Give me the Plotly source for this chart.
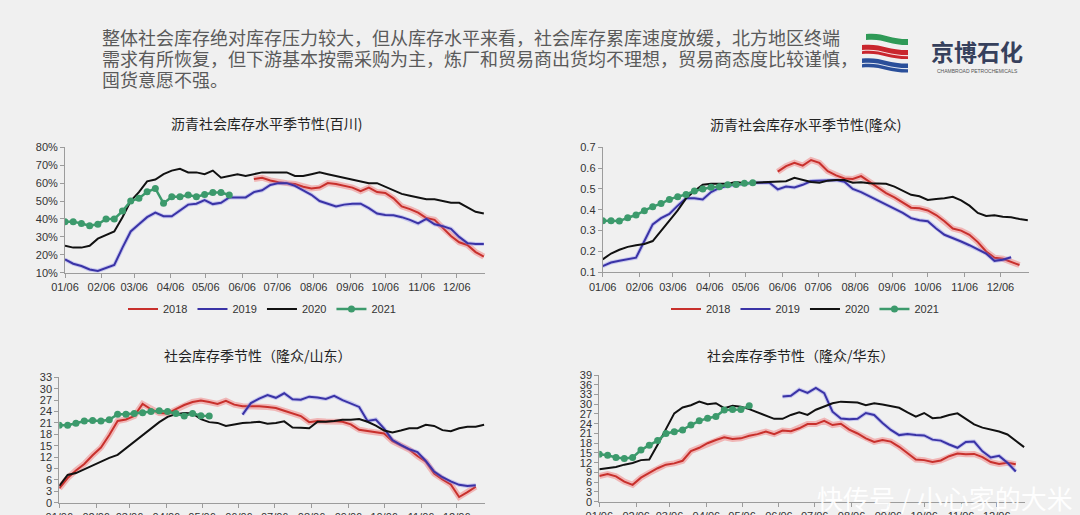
import pandas as pd
import plotly.graph_objects as go

W, H = 1080, 515

# ---------------- text ----------------
header_lines = [
    "整体社会库存绝对库存压力较大，但从库存水平来看，社会库存累库速度放缓，北方地区终端",
    "需求有所恢复，但下游基本按需采购为主，炼厂和贸易商出货均不理想，贸易商态度比较谨慎，",
    "囤货意愿不强。",
]
chart_titles = [
    "沥青社会库存水平季节性(百川)",
    "沥青社会库存水平季节性(隆众)",
    "社会库存季节性（隆众/山东）",
    "社会库存季节性（隆众/华东）",
]
logo_name = "京博石化"
logo_sub = "CHAMBROAD PETROCHEMICALS"
watermark = "快传号 / 小心家的大米"
years = ["2018", "2019", "2020", "2021"]

# ---------------- data (weekly readings, seasonal axis 01/06 .. 12/30) ----------------
# chart 1: 百川 库存水平 (%)
c1_2018_start = "2021-06-16"
c1_2018 = [62.3, 63, 61.5, 60.5, 60, 59.5, 58, 57, 57.5, 60, 59.5, 58.5, 57.5, 55.5, 57.5,
           55, 54.5, 51.5, 47, 45.5, 43.5, 40.5, 39.5, 35, 30.5, 27, 25.5, 21.5, 19]
c1_2019_start = "2021-01-06"
c1_2019 = [17.4, 15, 13.7, 11.8, 11, 12.5, 14.3, 24, 33, 37, 41, 43.5, 41.5, 41.5, 45, 48,
           48.5, 50.5, 48.3, 49, 52, 52, 52, 55, 56, 59, 60, 60, 58.5, 56, 53.5, 50, 48.5,
           47, 48, 48.5, 48.5, 46, 43, 42.2, 42, 41, 39.5, 37.5, 40, 37, 36, 34.5, 30, 26.5, 26, 26]
c1_2020_start = "2021-01-06"
c1_2020 = [25, 24, 24, 25, 29, 31, 33, 41, 50, 55, 61, 62, 65, 67, 68, 66, 66, 65, 67, 63,
           64, 65, 64, 65, 66, 66, 66, 66, 64, 64, 65, 66, 65, 64, 63, 62, 61, 60, 60, 58,
           56, 54, 53, 52, 51, 51, 50, 49, 49, 46.5, 44, 43]
c1_2021_start = "2021-01-06"
c1_2021 = [38.5, 38.5, 37.5, 36.2, 37, 40, 40, 44.4, 50, 51.5, 55.2, 57, 48.7, 52.4, 52.4,
           53.4, 52.4, 53.7, 54.7, 54.7, 53.4]

# chart 2: 隆众 库存水平 (ratio)
c2_2018_start = "2021-06-02"
c2_2018 = [0.583, 0.61, 0.626, 0.612, 0.639, 0.625, 0.585, 0.565, 0.55, 0.548, 0.562, 0.535,
           0.505, 0.48, 0.46, 0.435, 0.41, 0.407, 0.397, 0.375, 0.345, 0.31, 0.3, 0.28, 0.245,
           0.2, 0.17, 0.165, 0.15, 0.135]
c2_2019_start = "2021-01-06"
c2_2019 = [0.13, 0.147, 0.155, 0.162, 0.17, 0.25, 0.33, 0.36, 0.38, 0.42, 0.455, 0.455, 0.45,
           0.485, 0.505, 0.515, 0.52, 0.525, 0.53, 0.53, 0.53, 0.498, 0.512, 0.507, 0.52,
           0.538, 0.54, 0.54, 0.543, 0.535, 0.5, 0.485, 0.465, 0.445, 0.425, 0.408, 0.385,
           0.36, 0.35, 0.345, 0.31, 0.28, 0.265, 0.248, 0.23, 0.21, 0.19, 0.155, 0.16, 0.172]
c2_2020_start = "2021-01-06"
c2_2020 = [0.162, 0.19, 0.208, 0.222, 0.23, 0.236, 0.25, 0.3, 0.345, 0.397, 0.455, 0.49,
           0.52, 0.525, 0.525, 0.525, 0.533, 0.528, 0.53, 0.532, 0.532, 0.534, 0.537, 0.554,
           0.544, 0.533, 0.53, 0.54, 0.543, 0.543, 0.53, 0.532, 0.528, 0.527, 0.525, 0.511,
           0.49, 0.472, 0.465, 0.447, 0.452, 0.455, 0.462, 0.445, 0.42, 0.385, 0.37, 0.374,
           0.367, 0.364, 0.356, 0.35]
c2_2021_start = "2021-01-06"
c2_2021 = [0.348, 0.348, 0.346, 0.362, 0.375, 0.396, 0.415, 0.43, 0.45, 0.463, 0.474, 0.49,
           0.5, 0.508, 0.511, 0.52, 0.522, 0.527, 0.53]

# chart 3: 隆众/山东 社会库存 (万吨)
c3_2018_start = "2021-01-06"
c3_2018 = [3.8, 6.5, 8.5, 10.2, 12.5, 14.5, 17.8, 21.5, 21.9, 22.8, 26, 24.6, 23.6, 23.5,
           24.6, 25.7, 26.5, 26.9, 26.5, 26, 26.8, 25.8, 25.4, 25.4, 25.4, 25.2, 24.9, 24.2,
           23.6, 22.8, 21.2, 21.5, 21.4, 21.5, 21.3, 20.6, 19.2, 18.8, 18.6, 18.2, 16.2, 15.1,
           14, 12.3, 10.8, 7.7, 6.1, 4.8, 1.5, 2.8, 4.2]
c3_2019_start = "2021-06-09"
c3_2019 = [23.2, 26.2, 27.4, 28.3, 27.6, 28.8, 27.2, 27.1, 27.9, 27.7, 27.3, 28.1, 27.0,
           26.2, 25.2, 21.5, 21.9, 19.5, 16.5, 15.2, 14.1, 13.3, 11, 8.2, 6.7, 5.6, 4.7, 4.4, 4.6]
c3_2020_start = "2021-01-06"
c3_2020 = [4.4, 7.3, 7.8, 8.8, 10, 11, 11.8, 12.6, 14.3, 16, 17.6, 19.5, 21.2, 22.6, 23.3,
           23.6, 23.5, 22, 21.2, 21, 20.2, 20.6, 21, 21.1, 21.3, 20.8, 21, 21.4, 19.8, 19.7,
           19.6, 21.3, 21.3, 21.5, 21.8, 21.8, 22, 21.3, 20.3, 19, 18.5, 19, 19.6, 19.6, 20.5,
           20.2, 19.1, 18.8, 19.6, 20, 20, 20.5]
c3_2021_start = "2021-01-06"
c3_2021 = [20.4, 20.4, 20.9, 21.5, 21.6, 21.5, 21.8, 23.3, 23.3, 23.5, 23.7, 24, 24.2, 24,
           23.5, 22.8, 23.5, 22.9, 22.8]

# chart 4: 隆众/华东 社会库存 (万吨)
c4_2018_start = "2021-01-06"
c4_2018 = [7.9, 8.5, 7.8, 6.2, 5.2, 7.4, 8.9, 10.3, 11.4, 11.8, 12.6, 15.6, 16.6, 18, 19,
           19.8, 19.3, 19.5, 20.3, 20.8, 21.6, 20.8, 21.9, 21.7, 22.6, 23.9, 23.9, 24.9, 23.6,
           24.0, 22.2, 21, 19.5, 18.4, 19, 18.5, 16.9, 15, 13, 12.8, 12.2, 12.7, 14, 14.8,
           14.6, 14.7, 13.7, 12.2, 11.6, 12, 11.5]
c4_2019_start = "2021-06-09"
c4_2019 = [32.4, 32.6, 34.5, 33.5, 35, 33.4, 27.7, 25.6, 25.4, 25.5, 27.3, 26.7, 24.2, 22.1,
           20.5, 20.8, 20.5, 20.4, 19.1, 18.8, 17.6, 16.6, 18.4, 18.5, 15.5, 13.6, 14.1, 12, 9.3]
c4_2020_start = "2021-01-06"
c4_2020 = [10, 10.3, 10.7, 11.4, 11.9, 12.8, 13, 17.5, 22.3, 27.2, 29, 29.7, 30.8, 30, 30.3,
           28.8, 29.5, 29.2, 28.5, 27.5, 26.3, 25.5, 25.5, 26.7, 27.5, 26.7, 28.3, 29.4, 30.3,
           30.8, 30.6, 30.5, 29.7, 30.3, 29.9, 29.4, 28.9, 27.5, 26.2, 27.3, 25.7, 25.9, 26.7,
           27.2, 25.6, 23.8, 22.8, 22.3, 21.6, 20.7, 18.8, 16.8]
c4_2021_start = "2021-01-06"
c4_2021 = [14.6, 14.3, 13.6, 13.3, 13.6, 15.9, 17.4, 18.8, 21, 21.5, 22.1, 23.6, 24.9, 25.7,
           26.2, 28.2, 28.4, 28.4, 29.5]

charts = [
    [(c1_2018_start, c1_2018), (c1_2019_start, c1_2019), (c1_2020_start, c1_2020), (c1_2021_start, c1_2021)],
    [(c2_2018_start, c2_2018), (c2_2019_start, c2_2019), (c2_2020_start, c2_2020), (c2_2021_start, c2_2021)],
    [(c3_2018_start, c3_2018), (c3_2019_start, c3_2019), (c3_2020_start, c3_2020), (c3_2021_start, c3_2021)],
    [(c4_2018_start, c4_2018), (c4_2019_start, c4_2019), (c4_2020_start, c4_2020), (c4_2021_start, c4_2021)],
]

# ---------------- style ----------------
CJK = "Noto Sans CJK SC"
LAT = "Liberation Sans, Arial, sans-serif"
RED, BLUE, BLACK, GREEN = "#c8302c", "#3a33a6", "#111111", "#3c9a6c"
AXC = "#9c9c9c"
TXT = "#333333"

# plot rectangles in pixels: (left, right, top, bottom)
boxes = [(65, 485, 147.3, 272.7), (602.7, 1029, 147.3, 272.3),
         (59.3, 485.3, 377.3, 502.7), (599.3, 1025.3, 375, 501.7)]
yranges = [[10, 80], [0.1, 0.7], [0, 33], [0, 39]]
ydticks = [10, 0.1, 3, 3]
title_pos = [(266, 123), (805, 124), (258, 355), (801, 355)]
legend_pos = [(262, 309), (805, 309)]

fig = go.Figure()

def xdom(a, b):
    return [a / W, b / W]

def ydom(t, b):
    return [1 - b / H, 1 - t / H]

for i, series in enumerate(charts):
    xa = "x" if i == 0 else f"x{i + 1}"
    ya = "y" if i == 0 else f"y{i + 1}"
    leg = "legend" if i == 0 else ("legend2" if i == 1 else None)
    for (start, vals), yr in zip(series, years):
        xs = pd.date_range(start, periods=len(vals), freq="7D")
        if yr == "2018":
            fig.add_trace(go.Scatter(x=xs, y=vals, mode="lines", xaxis=xa, yaxis=ya,
                                     line=dict(color="rgba(240,110,110,0.45)", width=6),
                                     showlegend=False, hoverinfo="skip"))
        if yr == "2019":
            fig.add_trace(go.Scatter(x=xs, y=vals, mode="lines", xaxis=xa, yaxis=ya,
                                     line=dict(color="rgba(120,120,235,0.35)", width=4),
                                     showlegend=False, hoverinfo="skip"))
        color = {"2018": RED, "2019": BLUE, "2020": BLACK, "2021": GREEN}[yr]
        kw = dict(x=xs, y=vals, name=yr, xaxis=xa, yaxis=ya,
                  showlegend=leg is not None)
        if leg:
            kw["legend"] = leg
        if yr == "2021":
            fig.add_trace(go.Scatter(mode="lines+markers", line=dict(color=color, width=2.5),
                                     marker=dict(color=color, size=7), **kw))
        else:
            fig.add_trace(go.Scatter(mode="lines", line=dict(color=color, width=2), **kw))

layout = dict(width=W, height=H, margin=dict(l=0, r=0, t=0, b=0, autoexpand=False),
              paper_bgcolor="#f0f0f0", plot_bgcolor="rgba(0,0,0,0)",
              font=dict(family=LAT, color=TXT, size=11), showlegend=True)

for i, (l, r, t, b) in enumerate(boxes):
    sfx = "" if i == 0 else str(i + 1)
    yname = "y" + sfx
    layout["xaxis" + sfx] = dict(
        domain=xdom(l, r), anchor=yname, type="date", automargin=False,
        range=["2021-01-06", "2021-12-30"], tick0="2021-01-06", dtick="M1",
        tickformat="%m/%d", showgrid=False, zeroline=False, showline=True,
        linecolor=AXC, linewidth=1, ticks="outside", ticklen=4, tickcolor=AXC,
        tickfont=dict(family=LAT, size=11, color=TXT), fixedrange=True)
    ya = dict(domain=ydom(t, b), anchor="x" + sfx, range=yranges[i], dtick=ydticks[i],
              tick0=0, showgrid=False, zeroline=False, showline=True, linecolor=AXC,
              linewidth=1, ticks="outside", ticklen=4, tickcolor=AXC, automargin=False,
              tickfont=dict(family=LAT, size=11, color=TXT), fixedrange=True)
    if i == 0:
        ya["ticksuffix"] = "%"
    if i == 1:
        ya["tickformat"] = ".1f"
    layout["yaxis" + sfx] = ya

for key, (lx, ly) in zip(["legend", "legend2"], legend_pos):
    layout[key] = dict(x=lx / W, y=1 - ly / H, xanchor="center", yanchor="middle",
                       orientation="h", bgcolor="rgba(0,0,0,0)", itemwidth=30,
                       font=dict(family=LAT, size=11, color=TXT), tracegroupgap=0)

fig.update_layout(**layout)

# chart titles
for txt, (tx, ty) in zip(chart_titles, title_pos):
    fig.add_annotation(text=txt, x=tx / W, y=1 - ty / H, xref="paper", yref="paper",
                       xanchor="center", yanchor="middle", showarrow=False,
                       font=dict(family=CJK, size=14, color="#222222"))

# header text
for k, line in enumerate(header_lines):
    fig.add_annotation(text=line, x=100 / W, y=1 - (37 + 21 * k) / H, xref="paper", yref="paper",
                       xanchor="left", yanchor="middle", align="left", showarrow=False,
                       font=dict(family=CJK, size=18, color="#5a5a5a"))

def ppath(cmds):
    s = ""
    for cmd, pts in cmds:
        s += cmd + " " + " ".join(f"{x / W:.5f},{1 - y / H:.5f}" for x, y in pts) + " "
    return s + "Z"

shapes = []
# header arrow
shapes.append(dict(type="path", xref="paper", yref="paper", line=dict(width=0),
                   fillcolor="#808080", path=ppath([("M", [(83, 49)]), ("L", [(92, 58), (83, 67)])])))

# subtle light facets in the background
for poly in [[(330, 95), (760, 95), (560, 330)], [(0, 330), (260, 515), (0, 515)],
             [(700, 330), (1080, 300), (1080, 515), (900, 515)]]:
    shapes.append(dict(type="path", xref="paper", yref="paper", line=dict(width=0), layer="below",
                       fillcolor="rgba(255,255,255,0.35)",
                       path=ppath([("M", [poly[0]]), ("L", poly[1:])])))

# logo stripes
def stripe(x0, x1, yt, th, d):
    xm = (x0 + x1) / 2
    return ppath([("M", [(x0, yt)]),
                  ("C", [(xm - 4, yt - 2), (xm + 2, yt + d), (x1, yt + d)]),
                  ("L", [(x1, yt + d + th)]),
                  ("C", [(xm + 2, yt + d + th), (xm - 4, yt + th - 2), (x0, yt + th)])])

for (x0, yt, th, col) in [(866, 34, 6, "#2f9a57"), (862, 45, 9, "#c9262e"), (862, 58.5, 9, "#2a4f9a")]:
    shapes.append(dict(type="path", xref="paper", yref="paper", line=dict(width=0),
                       fillcolor=col, path=stripe(x0, 908, yt, th, 5)))
for (x0, yt) in [(862, 50), (862, 63)]:
    shapes.append(dict(type="path", xref="paper", yref="paper", line=dict(width=0),
                       fillcolor="rgba(255,255,255,0.85)", path=stripe(x0, 908, yt, 1.2, 5)))

fig.update_layout(shapes=shapes)

fig.add_annotation(text="<b>" + logo_name + "</b>", x=977 / W, y=1 - 50.5 / H, xref="paper", yref="paper",
                   xanchor="center", yanchor="middle", showarrow=False,
                   font=dict(family=CJK, size=23, color="#36405c"))
fig.add_annotation(text=logo_sub, x=977 / W, y=1 - 71 / H, xref="paper", yref="paper",
                   xanchor="center", yanchor="middle", showarrow=False,
                   font=dict(family=LAT, size=5, color="#555555"))

# watermark
fig.add_annotation(text=watermark, x=1075 / W, y=1 - 497 / H, xref="paper", yref="paper",
                   xanchor="right", yanchor="middle", align="right", showarrow=False,
                   font=dict(family=CJK, size=26, color="rgba(255,255,255,0.95)"))

fig.write_html("out.html")
